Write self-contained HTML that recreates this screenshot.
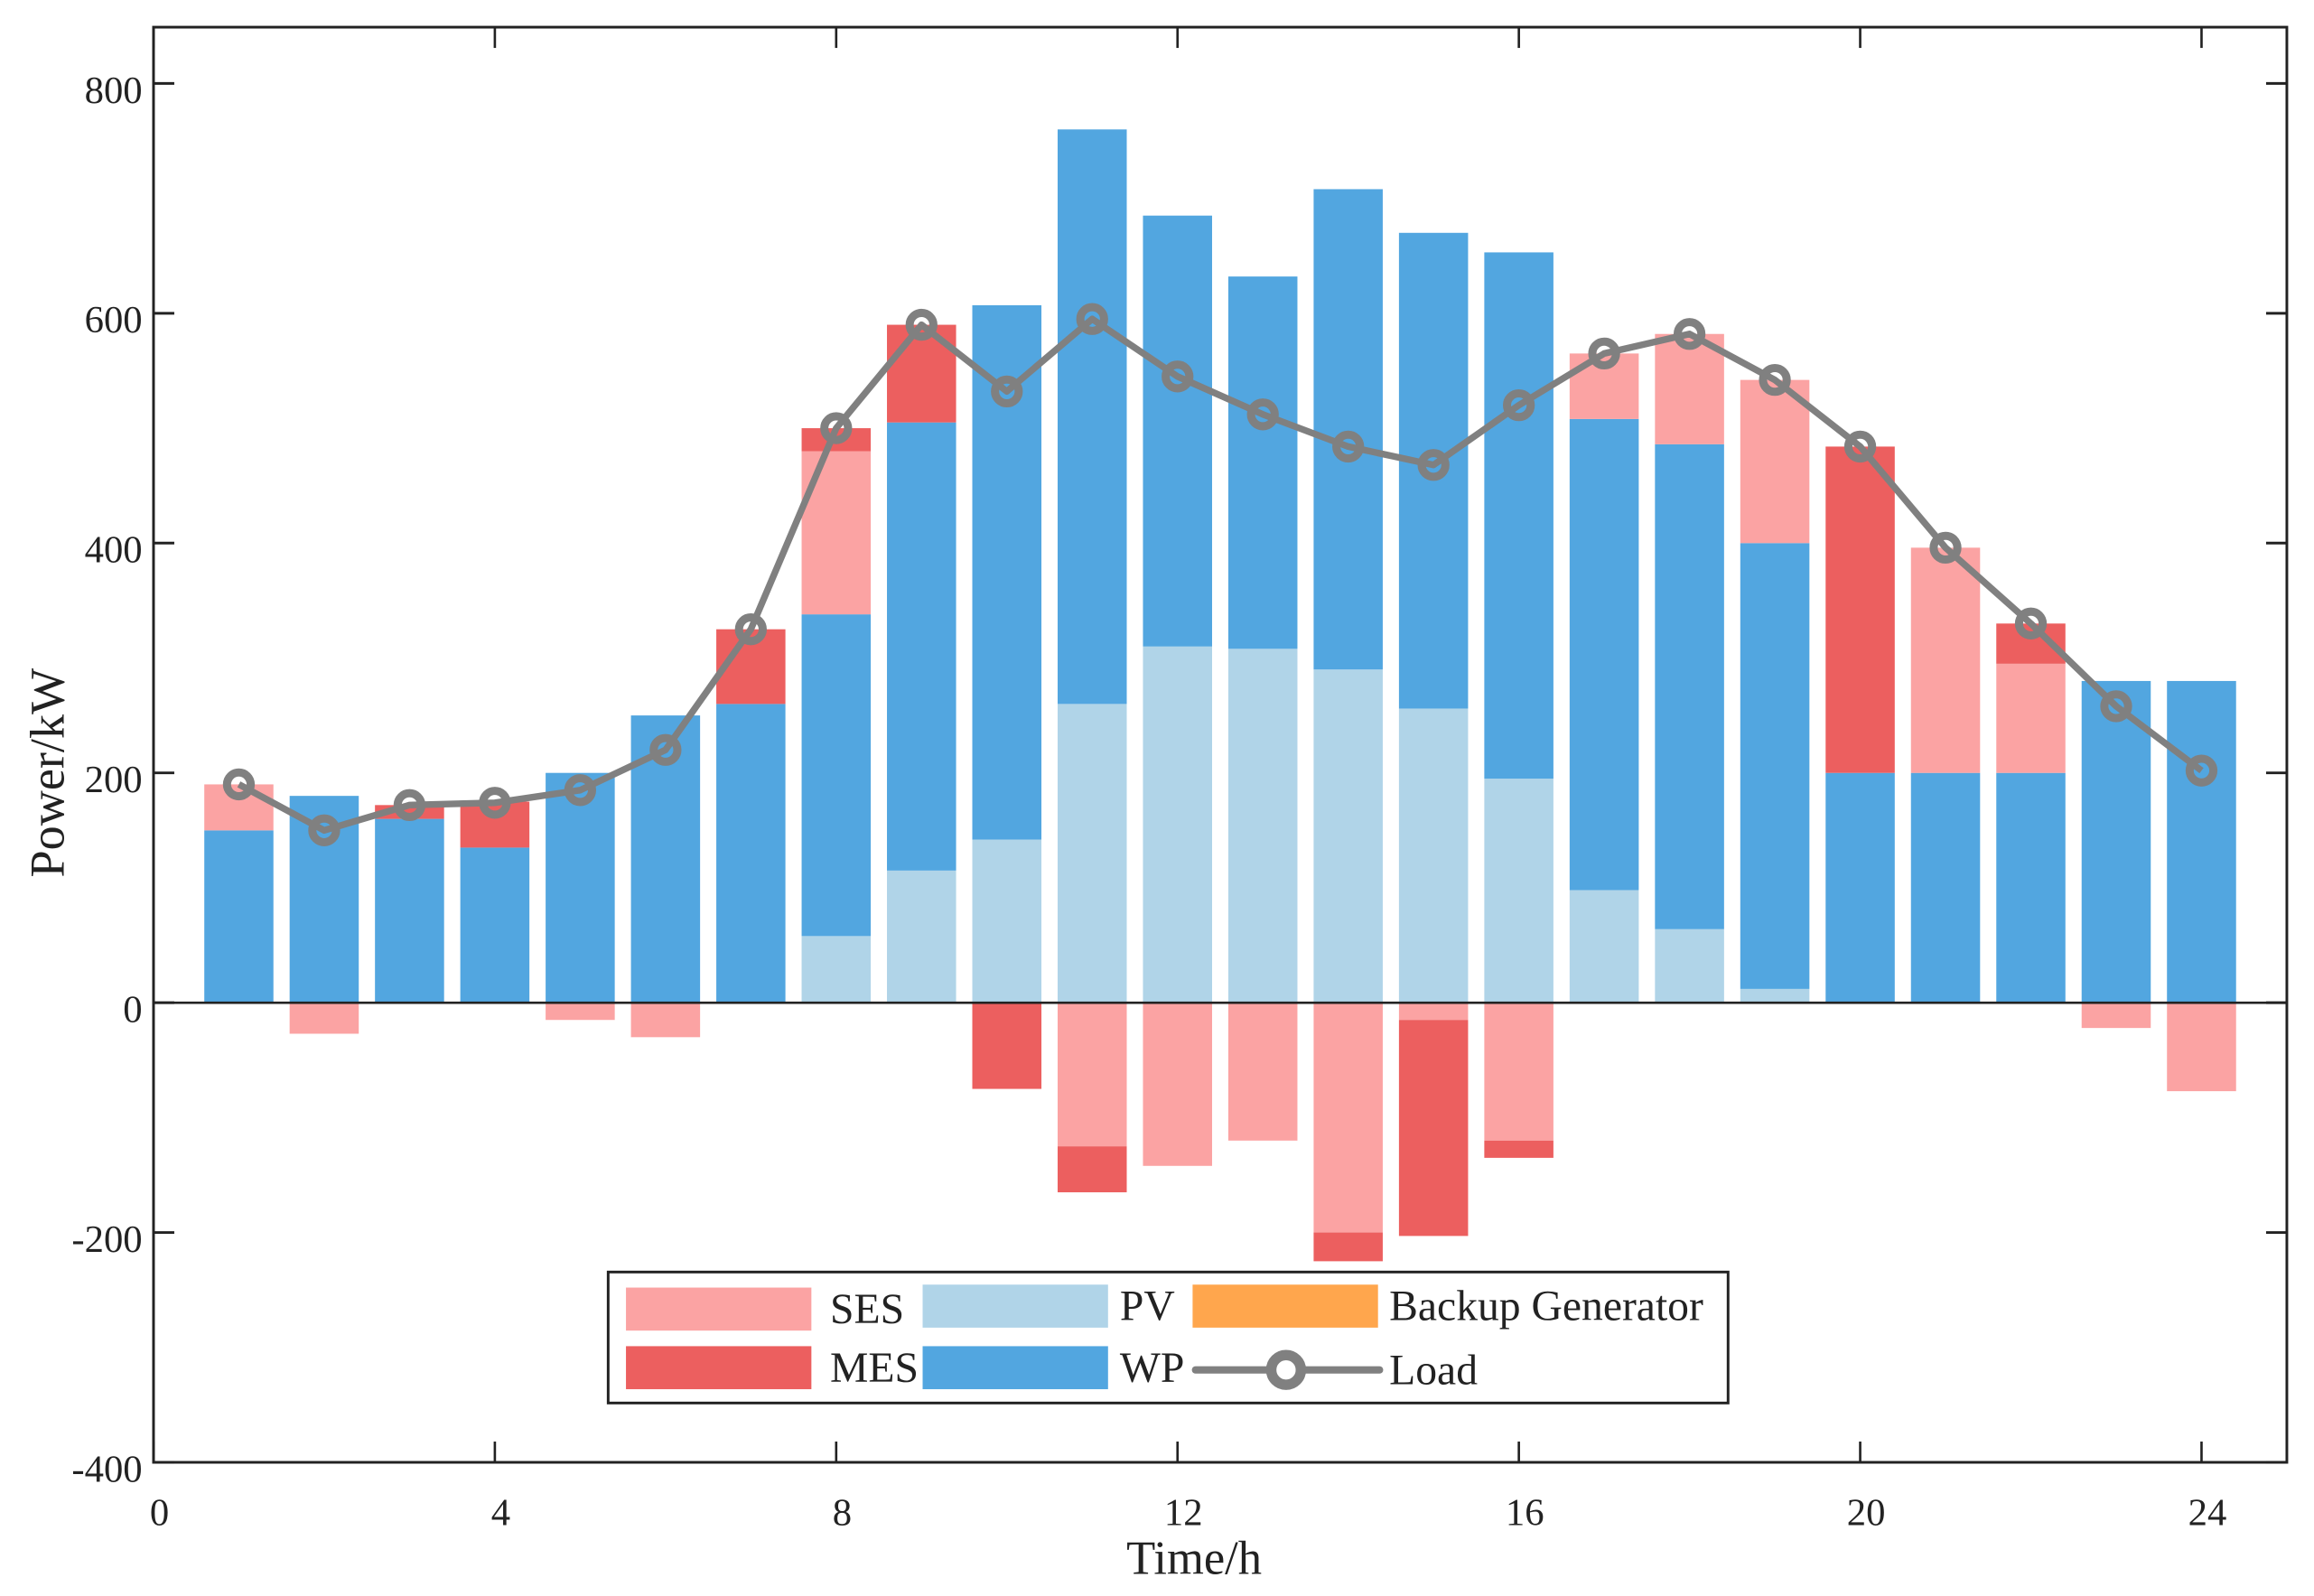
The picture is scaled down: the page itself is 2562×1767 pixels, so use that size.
<!DOCTYPE html>
<html><head><meta charset="utf-8"><style>html,body{margin:0;padding:0;background:#fff}svg{display:block}text{font-family:"Liberation Serif",serif;fill:#222}</style></head>
<body>
<svg id="chart" width="2562" height="1767" viewBox="0 0 1560 1075.9" xmlns="http://www.w3.org/2000/svg">
<g id="bars"></g>
<g id="axes"></g>
<g id="line"></g>
<g id="legend"></g>
</svg>
<script>
const hours=[1,2,3,4,5,6,7,8,9,10,11,12,13,14,15,16,17,18,19,20,21,22,23,24];
const pv=[0,0,0,0,0,0,0,58,115,142,260,310,308,290,256,195,98,64,12,0,0,0,0,0];
const wp=[150,180,160,135,200,250,260,280,390,465,500,375,324,418,414,458,410,422,388,200,200,200,280,280];
const sesPos=[40,0,0,0,0,0,0,142,0,0,0,0,0,0,0,0,57,96,142,0,196,95,0,0];
const mesPos=[0,0,12,40,0,0,65,20,85,0,0,0,0,0,0,0,0,0,0,284,0,35,0,0];
const sesNeg=[0,-27,0,0,-15,-30,0,0,0,0,-125,-142,-120,-200,-15,-120,0,0,0,0,0,0,-22,-77];
const mesNeg=[0,0,0,0,0,0,0,0,0,-75,-40,0,0,-25,-188,-15,0,0,0,0,0,0,0,0];
const load=[190,150,172,174,185,220,325,500,590,532,595,545,512,484,468,520,565,582,542,484,396,330,258,202];
const xTicks=[0,4,8,12,16,20,24];
const yTicks=[-400,-200,0,200,400,600,800];
const C={ses:'#fba3a3',mes:'#ec5f5f',pv:'#b0d4e8',wp:'#52a6e0',bg:'#ffa64d',load:'#808080'};
const L=103.5,R=1541.7,T=18.3,B=985.8,xmin=0,xmax=25,ymin=-400,ymax=849;
const X=v=>L+(v-xmin)/(xmax-xmin)*(R-L);
const Y=v=>B-(v-ymin)/(ymax-ymin)*(B-T);
const NS='http://www.w3.org/2000/svg';
function el(tag,attrs,parent,txt){const e=document.createElementNS(NS,tag);for(const k in attrs)e.setAttribute(k,attrs[k]);if(txt!==undefined)e.textContent=txt;parent.appendChild(e);return e;}
const gb=document.getElementById('bars');
const bw=0.81;
hours.forEach((h,i)=>{
  let base=0;
  [['pv',pv],['wp',wp],['ses',sesPos],['mes',mesPos]].forEach(([k,arr])=>{
    const v=arr[i]; if(!v)return;
    const r=el('rect',{x:X(h-bw/2),width:X(h+bw/2)-X(h-bw/2),y:Y(base+v),height:Y(base)-Y(base+v),fill:C[k]},gb);
    
    
    base+=v;
  });
  let nb=0;
  [['ses',sesNeg],['mes',mesNeg]].forEach(([k,arr])=>{
    const v=arr[i]; if(!v)return;
    const r=el('rect',{x:X(h-bw/2),width:X(h+bw/2)-X(h-bw/2),y:Y(nb),height:Y(nb+v)-Y(nb),fill:C[k]},gb);
    
    
    nb+=v;
  });
});
const ga=document.getElementById('axes');
el('line',{x1:L,x2:R,y1:Y(0),y2:Y(0),stroke:'#222','stroke-width':1.6},ga);
el('rect',{x:L,y:T,width:R-L,height:B-T,fill:'none',stroke:'#222','stroke-width':1.8},ga);
xTicks.forEach(t=>{
  el('line',{x1:X(t),x2:X(t),y1:B,y2:B-14,stroke:'#222','stroke-width':1.6},ga);
  el('line',{x1:X(t),x2:X(t),y1:T,y2:T+14,stroke:'#222','stroke-width':1.6},ga);
  const tx=el('text',{x:X(t)+4,y:1028,'text-anchor':'middle','font-size':26},ga,String(t));
  
  
});
yTicks.forEach(t=>{
  el('line',{x1:L,x2:L+14,y1:Y(t),y2:Y(t),stroke:'#222','stroke-width':1.8},ga);
  el('line',{x1:R,x2:R-14,y1:Y(t),y2:Y(t),stroke:'#222','stroke-width':1.8},ga);
  const tx=el('text',{x:96,y:Y(t)+13,'text-anchor':'end','font-size':26},ga,String(t));
  
  
});
const xt=el('text',{x:805,y:1061,'text-anchor':'middle','font-size':32},ga,'Time/h');

const yt=el('text',{x:0,y:0,transform:`translate(43,521) rotate(-90)`,'text-anchor':'middle','font-size':33},ga,'Power/kW');

const gl=document.getElementById('line');
el('polyline',{points:hours.map((h,i)=>X(h)+','+Y(load[i])).join(' '),fill:'none',stroke:C.load,'stroke-width':4.5,'stroke-linejoin':'round'},gl);
hours.forEach((h,i)=>{
  const c=el('circle',{cx:X(h),cy:Y(load[i]),r:8,fill:'none',stroke:C.load,'stroke-width':5.5},gl);
  
  
});
const lg=document.getElementById('legend');
el('rect',{x:410,y:857.5,width:755,height:88.3,fill:'#fff',stroke:'#222','stroke-width':1.8},lg);
const items=[['SES',C.ses,422,868,559.6,892],['MES',C.mes,422,907.5,559.6,931.6],['PV',C.pv,622,866,755,890],['WP',C.wp,622,907.5,755,931.6],['Backup Generator',C.bg,804,866,936.6,890]];
items.forEach(([n,c,x,y,tx,ty])=>{
  const s=el('rect',{x:x,y:y,width:125,height:29,fill:c},lg);
  
  
  const t=el('text',{x:tx,y:ty,'font-size':29},lg,n);
  
  
});
el('line',{x1:806,x2:930,y1:923.5,y2:923.5,stroke:C.load,'stroke-width':5,'stroke-linecap':'round'},lg);
el('circle',{cx:867,cy:923.5,r:10,fill:'#fff',stroke:C.load,'stroke-width':7},lg);
const lt=el('text',{x:936.6,y:933,'font-size':29},lg,'Load');


</script>
</body></html>
